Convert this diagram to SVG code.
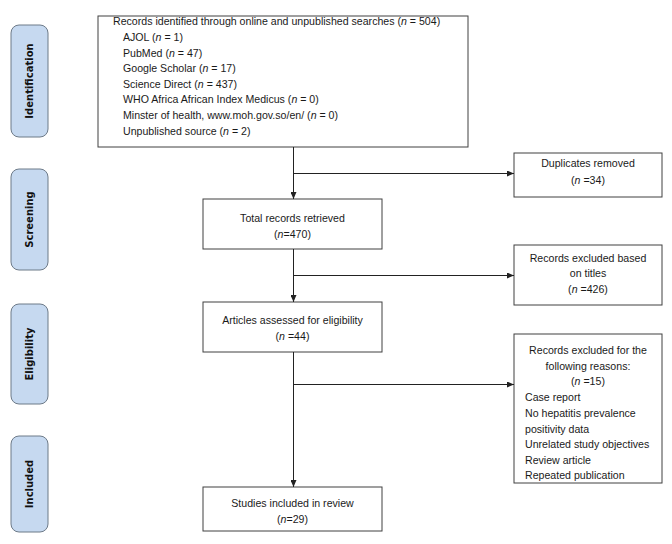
<svg xmlns="http://www.w3.org/2000/svg" width="672" height="544" viewBox="0 0 672 544">
<style>
.box{fill:#fff;stroke:#404040;stroke-width:1}
.side{fill:#c6d9f0;stroke:#6d7a88;stroke-width:1}
text{font-family:"Liberation Sans",Arial,sans-serif;font-size:10.6px;fill:#1a1a1a}
.c{text-anchor:middle}
.lbl{font-family:"DejaVu Sans",Verdana,sans-serif;font-size:10px;font-weight:bold;text-anchor:middle;fill:#111}
.ln{stroke:#222;stroke-width:1;fill:none}
</style>
<defs>
<marker id="ah" markerWidth="8" markerHeight="6" refX="7" refY="3" orient="auto" markerUnits="userSpaceOnUse">
<path d="M0,0 L7,3 L0,6 z" fill="#222"/>
</marker>
</defs>
<g id="phase-identification"><rect class="side" x="11" y="25" width="37" height="112" rx="8"/><text class="lbl" transform="translate(33,81) rotate(-90)">Identification</text></g>
<g id="phase-screening"><rect class="side" x="11" y="169" width="37" height="101" rx="8"/><text class="lbl" transform="translate(33,219.5) rotate(-90)">Screening</text></g>
<g id="phase-eligibility"><rect class="side" x="11" y="304" width="37" height="100" rx="8"/><text class="lbl" transform="translate(33,354) rotate(-90)">Eligibility</text></g>
<g id="phase-included"><rect class="side" x="11" y="436" width="37" height="96" rx="8"/><text class="lbl" transform="translate(33,484) rotate(-90)">Included</text></g>

<g id="records-identified">
<rect class="box" x="98" y="16" width="370" height="131"/>
<text x="113" y="25">Records identified through online and unpublished searches (<tspan font-style="italic">n</tspan> = 504)</text>
<text x="123" y="41">AJOL (<tspan font-style="italic">n</tspan> = 1)</text>
<text x="123" y="57">PubMed (<tspan font-style="italic">n</tspan> = 47)</text>
<text x="123" y="72">Google Scholar (<tspan font-style="italic">n</tspan> = 17)</text>
<text x="123" y="88">Science Direct (<tspan font-style="italic">n</tspan> = 437)</text>
<text x="123" y="103">WHO Africa African Index Medicus (<tspan font-style="italic">n</tspan> = 0)</text>
<text x="123" y="119">Minster of health, www.moh.gov.so/en/ (<tspan font-style="italic">n</tspan> = 0)</text>
<text x="123" y="135">Unpublished source (<tspan font-style="italic">n</tspan> = 2)</text>
</g>

<g id="duplicates">
<rect class="box" x="514" y="153" width="148" height="44"/>
<text class="c" x="588" y="167">Duplicates removed</text>
<text class="c" x="588" y="184">(<tspan font-style="italic">n</tspan> =34)</text>
</g>

<g id="total-records">
<rect class="box" x="203" y="199" width="179" height="50"/>
<text class="c" x="292.5" y="222">Total records retrieved</text>
<text class="c" x="292.5" y="238">(<tspan font-style="italic">n</tspan>=470)</text>
</g>

<g id="excluded-titles">
<rect class="box" x="514" y="245" width="148" height="60"/>
<text class="c" x="588" y="262">Records excluded based</text>
<text class="c" x="588" y="277">on titles</text>
<text class="c" x="588" y="293">(<tspan font-style="italic">n</tspan> =426)</text>
</g>

<g id="articles-assessed">
<rect class="box" x="203" y="302" width="179" height="50"/>
<text class="c" x="292.5" y="324">Articles assessed for eligibility</text>
<text class="c" x="292.5" y="340">(<tspan font-style="italic">n</tspan> =44)</text>
</g>

<g id="excluded-reasons">
<rect class="box" x="514" y="334" width="148" height="149"/>
<text class="c" x="588" y="354">Records excluded for the</text>
<text class="c" x="588" y="370">following reasons:</text>
<text class="c" x="588" y="385">(<tspan font-style="italic">n</tspan> =15)</text>
<text x="525" y="401">Case report</text>
<text x="525" y="417">No hepatitis prevalence</text>
<text x="525" y="433">positivity data</text>
<text x="525" y="448">Unrelated study objectives</text>
<text x="525" y="464">Review article</text>
<text x="525" y="479">Repeated publication</text>
</g>

<g id="studies-included">
<rect class="box" x="203" y="487" width="179" height="44"/>
<text class="c" x="292.5" y="507">Studies included in review</text>
<text class="c" x="292.5" y="523">(<tspan font-style="italic">n</tspan>=29)</text>
</g>

<g id="connectors">
<line class="ln" x1="293.5" y1="147" x2="293.5" y2="199" marker-end="url(#ah)"/>
<line class="ln" x1="293.5" y1="173.5" x2="514" y2="173.5" marker-end="url(#ah)"/>
<line class="ln" x1="293.5" y1="249" x2="293.5" y2="302" marker-end="url(#ah)"/>
<line class="ln" x1="293.5" y1="275.5" x2="514" y2="275.5" marker-end="url(#ah)"/>
<line class="ln" x1="293.5" y1="352" x2="293.5" y2="487" marker-end="url(#ah)"/>
<line class="ln" x1="293.5" y1="384.5" x2="514" y2="384.5" marker-end="url(#ah)"/>
</g>
</svg>
